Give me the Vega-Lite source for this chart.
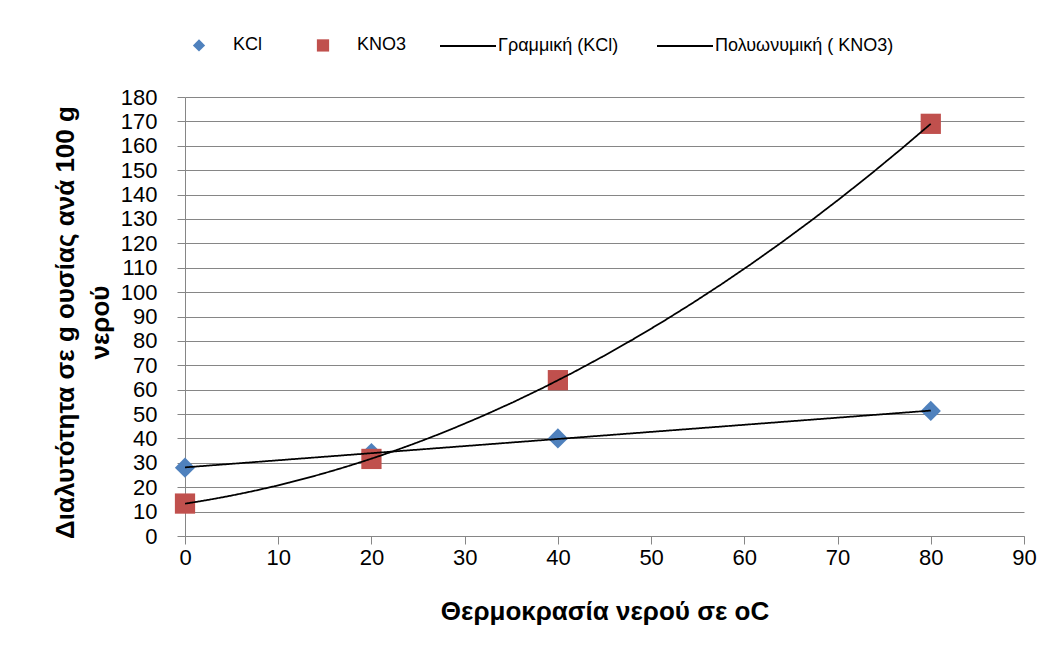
{
  "$schema": "https://vega.github.io/schema/vega-lite/v6.json",
  "width": 839,
  "height": 439,
  "autosize": {"type": "none"},
  "padding": {"left": 185, "top": 97, "right": 35, "bottom": 119},
  "background": "white",
  "config": {
    "view": {"stroke": null},
    "font": "Liberation Sans",
    "axis": {
      "labelFont": "Liberation Sans",
      "titleFont": "Liberation Sans",
      "labelColor": "#000000",
      "titleColor": "#000000",
      "domainColor": "#868686",
      "tickColor": "#868686",
      "gridColor": "#868686",
      "gridOpacity": 1,
      "domainWidth": 1,
      "tickWidth": 1,
      "gridWidth": 1,
      "tickSize": 8,
      "labelFontSize": 22,
      "titleFontSize": 26,
      "titleFontWeight": "bold",
      "labelOverlap": false,
      "labelFlush": false
    },
    "legend": {
      "labelFont": "Liberation Sans",
      "labelFontSize": 18,
      "labelColor": "#000000",
      "labelLimit": 400,
      "orient": "none",
      "direction": "horizontal"
    }
  },
  "data": {
    "values": [
      {"t": 0, "s": 28, "series": "KCl"},
      {"t": 20, "s": 34, "series": "KCl"},
      {"t": 40, "s": 40, "series": "KCl"},
      {"t": 80, "s": 51.3, "series": "KCl"},
      {"t": 0, "s": 13.3, "series": "KNO3"},
      {"t": 20, "s": 31.6, "series": "KNO3"},
      {"t": 40, "s": 63.9, "series": "KNO3"},
      {"t": 80, "s": 169, "series": "KNO3"}
    ]
  },
  "encoding": {
    "x": {
      "field": "t",
      "type": "quantitative",
      "scale": {"domain": [0, 90], "nice": false, "zero": false},
      "axis": {
        "title": "Θερμοκρασία νερού σε oC",
        "values": [0, 10, 20, 30, 40, 50, 60, 70, 80, 90],
        "tickCount": 20,
        "grid": false,
        "labelPadding": 3,
        "titlePadding": 30
      }
    },
    "y": {
      "field": "s",
      "type": "quantitative",
      "scale": {"domain": [0, 180], "nice": false},
      "axis": {
        "title": ["Διαλυτότητα σε g ουσίας ανά 100 g", "νερού"],
        "values": [0, 10, 20, 30, 40, 50, 60, 70, 80, 90, 100, 110, 120, 130, 140, 150, 160, 170, 180],
        "tickCount": 25,
        "grid": true,
        "labelPadding": 20,
        "titlePadding": 7,
        "titleLineHeight": 35,
        "titleY": 225
      }
    }
  },
  "layer": [
    {
      "mark": {"type": "point", "filled": true, "size": 410, "opacity": 1},
      "encoding": {
        "color": {
          "field": "series",
          "type": "nominal",
          "scale": {"domain": ["KCl", "KNO3"], "range": ["#4F81BD", "#C0504D"]},
          "legend": {
            "title": null,
            "orient": "none",
            "legendX": 5,
            "legendY": -61,
            "direction": "horizontal",
            "columns": 2,
            "columnPadding": 50,
            "labelOffset": 25,
            "symbolSize": 150,
            "symbolOpacity": 1
          }
        },
        "shape": {
          "field": "series",
          "type": "nominal",
          "scale": {"domain": ["KCl", "KNO3"], "range": ["diamond", "square"]},
          "legend": {
            "title": null,
            "orient": "none",
            "legendX": 5,
            "legendY": -61,
            "direction": "horizontal",
            "columns": 2,
            "columnPadding": 50,
            "labelOffset": 25,
            "symbolSize": 150,
            "symbolOpacity": 1
          }
        }
      }
    },
    {
      "transform": [
        {"filter": "datum.series === 'KCl'"},
        {"regression": "s", "on": "t", "method": "linear", "extent": [0, 80]}
      ],
      "mark": {"type": "line", "strokeWidth": 1.75, "color": "#000000"},
      "encoding": {
        "strokeDash": {
          "datum": "Γραμμική (KCl)",
          "type": "nominal",
          "scale": {"domain": ["Γραμμική (KCl)", "Πολυωνυμική ( KNO3)"], "range": [[1, 0], [1, 0]]},
          "legend": {
            "title": null,
            "orient": "none",
            "legendX": 254,
            "legendY": -80,
            "direction": "horizontal",
            "columns": 2,
            "columnPadding": 34,
            "labelOffset": 1,
            "symbolType": "stroke",
            "symbolSize": 3136,
            "symbolStrokeWidth": 2,
            "symbolStrokeColor": "#000000"
          }
        }
      }
    },
    {
      "transform": [
        {"filter": "datum.series === 'KNO3'"},
        {"regression": "s", "on": "t", "method": "poly", "order": 2, "extent": [0, 80]}
      ],
      "mark": {"type": "line", "strokeWidth": 1.75, "color": "#000000"},
      "encoding": {
        "strokeDash": {
          "datum": "Πολυωνυμική ( KNO3)",
          "type": "nominal",
          "legend": {
            "title": null,
            "orient": "none",
            "legendX": 254,
            "legendY": -80,
            "direction": "horizontal",
            "columns": 2,
            "columnPadding": 34,
            "labelOffset": 1,
            "symbolType": "stroke",
            "symbolSize": 3136,
            "symbolStrokeWidth": 2,
            "symbolStrokeColor": "#000000"
          }
        }
      }
    }
  ]
}
